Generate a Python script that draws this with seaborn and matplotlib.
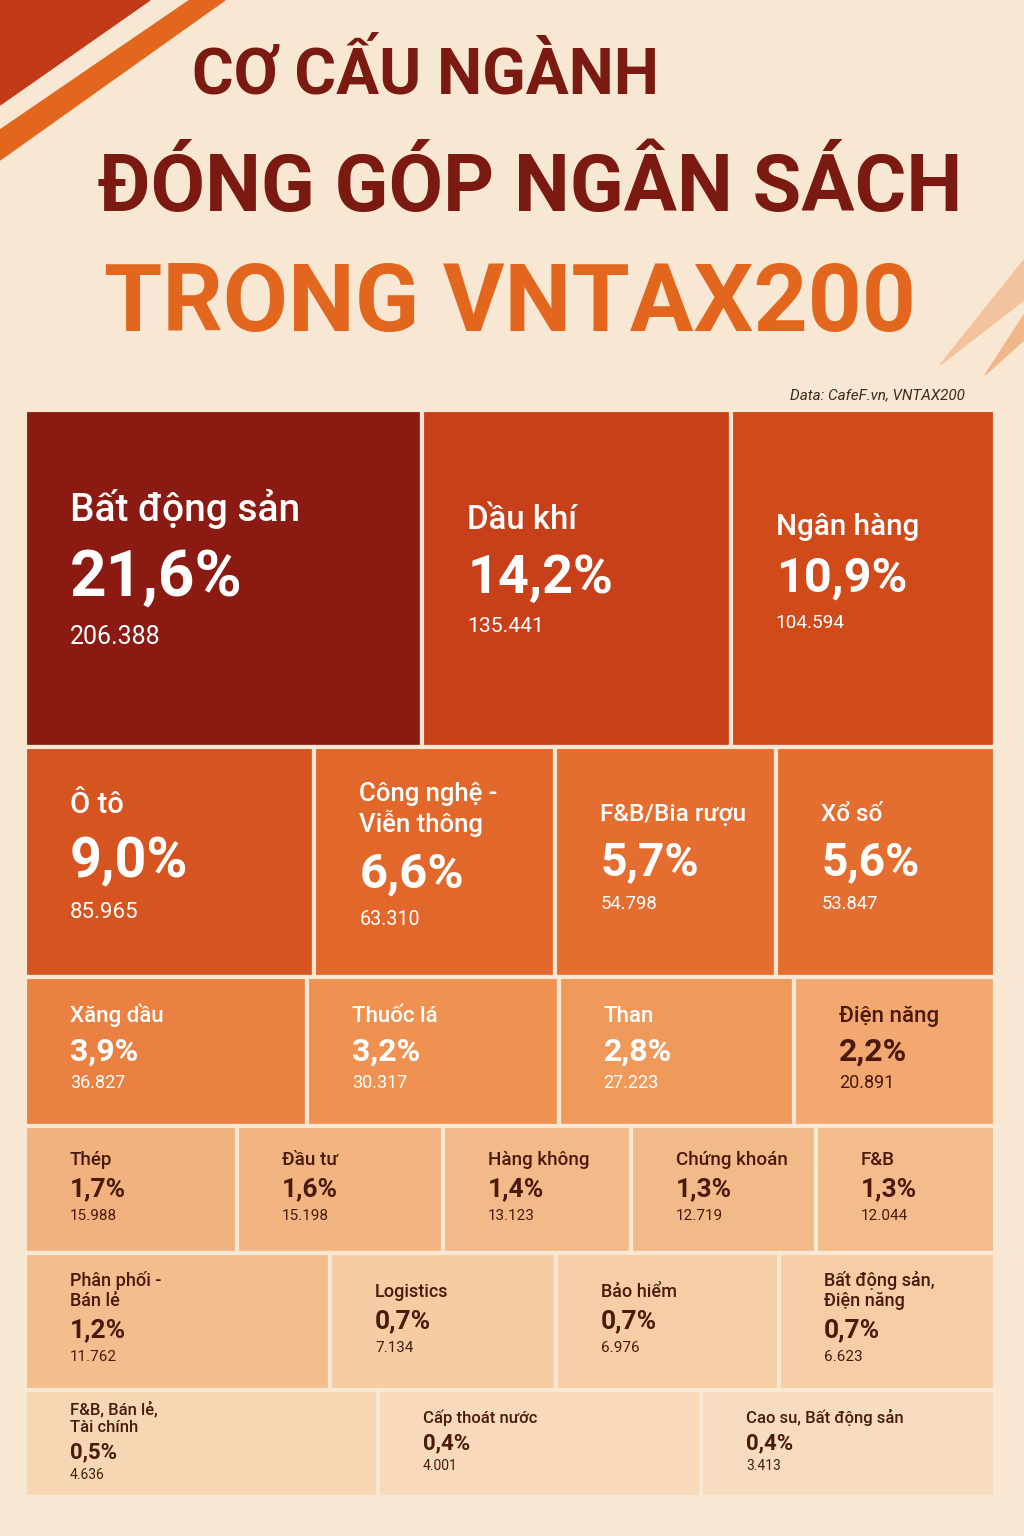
import numpy as np
import matplotlib.pyplot as plt
import seaborn as sns
from matplotlib.patches import Rectangle, Polygon
from matplotlib.colors import LinearSegmentedColormap

sectors = ["Bất động sản", "Dầu khí", "Ngân hàng",
           "Ô tô", "Công nghệ -\nViễn thông", "F&B/Bia rượu", "Xổ số",
           "Xăng dầu", "Thuốc lá", "Than", "Điện năng",
           "Thép", "Đầu tư", "Hàng không", "Chứng khoán", "F&B",
           "Phân phối -\nBán lẻ", "Logistics", "Bảo hiểm", "Bất động sản,\nĐiện năng",
           "F&B, Bán lẻ,\nTài chính", "Cấp thoát nước", "Cao su, Bất động sản"]
shares = [21.6, 14.2, 10.9, 9.0, 6.6, 5.7, 5.6, 3.9, 3.2, 2.8, 2.2,
          1.7, 1.6, 1.4, 1.3, 1.3, 1.2, 0.7, 0.7, 0.7, 0.5, 0.4, 0.4]
values = [206.388, 135.441, 104.594, 85.965, 63.310, 54.798, 53.847,
          36.827, 30.317, 27.223, 20.891, 15.988, 15.198, 13.123, 12.719, 12.044,
          11.762, 7.134, 6.976, 6.623, 4.636, 4.001, 3.413]
row_of = [0, 0, 0, 1, 1, 1, 1, 2, 2, 2, 2, 3, 3, 3, 3, 3, 4, 4, 4, 4, 5, 5, 5]

def fmt_pct(v):
    return f"{v:.1f}%".replace(".", ",")

def fmt_val(v):
    return f"{v:.3f}"

# layout / style constants
BG = "#F8E7D2"
row_h = [337, 230, 149, 127, 137, 107]
top0, left0, right0 = 410, 25, 995
font_n = [28, 21, 16, 13.5, 13, 12]
font_p = [46, 40, 23, 19, 19, 16]
font_v = [18, 16, 13, 11, 11, 10]

sns.set_style("white")
plt.rcParams['font.family'] = ['Roboto', 'DejaVu Sans']

fig = plt.figure(figsize=(10.24, 15.36), dpi=100, facecolor=BG)
ax = fig.add_axes([0, 0, 1, 1])
ax.set_xlim(0, 1024)
ax.set_ylim(1536, 0)
ax.axis("off")
ax.set_facecolor(BG)

# decorative stripes
ax.add_patch(Polygon([[0, 0], [150, 0], [0, 105]], color="#C23A17", zorder=0))
ax.add_patch(Polygon([[0, 130], [190, 0], [225, 0], [0, 160]], color="#E2661E", zorder=0))
ax.add_patch(Polygon([[1024, 260], [1024, 300], [940, 365]], color="#F2C39C", zorder=0))
ax.add_patch(Polygon([[1024, 315], [1024, 340], [985, 375]], color="#F0B88A", zorder=0))

# titles
ax.text(425, 75, "CƠ CẤU NGÀNH", ha="center", va="center", fontsize=46,
        fontweight="bold", color="#7A1A10")
ax.text(530, 190, "ĐÓNG GÓP NGÂN SÁCH", ha="center", va="center", fontsize=57,
        fontweight="bold", color="#7A1A10")
ax.text(510, 305, "TRONG VNTAX200", ha="center", va="center", fontsize=68,
        fontweight="bold", color="#E2661E")
ax.text(965, 395, "Data: CafeF.vn, VNTAX200", ha="right", va="center", fontsize=11,
        style="italic", color="#3a2a20")

cmap = LinearSegmentedColormap.from_list("tax", [
    (0.0, "#F8DCC0"), (0.2, "#F6CBA0"), (0.38, "#F2B27E"), (0.46, "#F2A56C"),
    (0.53, "#EE9252"), (0.6, "#E8793A"), (0.7, "#E36A2C"), (0.82, "#D24C1A"),
    (0.9, "#C8401A"), (1.0, "#8A1A12")])
logv = np.log(values)
norm = (logv - logv.min()) / (logv.max() - logv.min())

y = top0
for r, h in enumerate(row_h):
    idx = [i for i, rr in enumerate(row_of) if rr == r]
    vals = np.array([values[i] for i in idx])
    w = vals ** 0.6
    w = w / w.sum() * (right0 - left0)
    x = left0
    for k, (i, wi) in enumerate(zip(idx, w)):
        c = cmap(norm[i])
        ax.add_patch(Rectangle((x, y), wi, h, facecolor=c, edgecolor=BG, linewidth=3))
        tc = "white" if norm[i] > 0.47 else "#4A1A0C"
        s = (vals[k] / vals.max()) ** 0.4 if r < 2 else 1.0
        n, p, v = font_n[r] * s, font_p[r] * s, font_v[r] * s
        lines = sectors[i].count("\n") + 1
        cy = y + h / 2 + (lines - 1) * n * 0.7
        p_px = p * 100 / 72
        ax.text(x + 45, cy, fmt_pct(shares[i]), ha="left", va="center",
                fontsize=p, fontweight="bold", color=tc)
        ax.text(x + 45, cy - 0.78 * p_px, sectors[i], ha="left", va="bottom",
                fontsize=n, fontweight="medium", color=tc, linespacing=1.15)
        ax.text(x + 45, cy + 0.72 * p_px, fmt_val(values[i]), ha="left", va="top",
                fontsize=v, color=tc)
        x += wi
    y += h

fig.savefig("out.png", dpi=100, facecolor=BG)
